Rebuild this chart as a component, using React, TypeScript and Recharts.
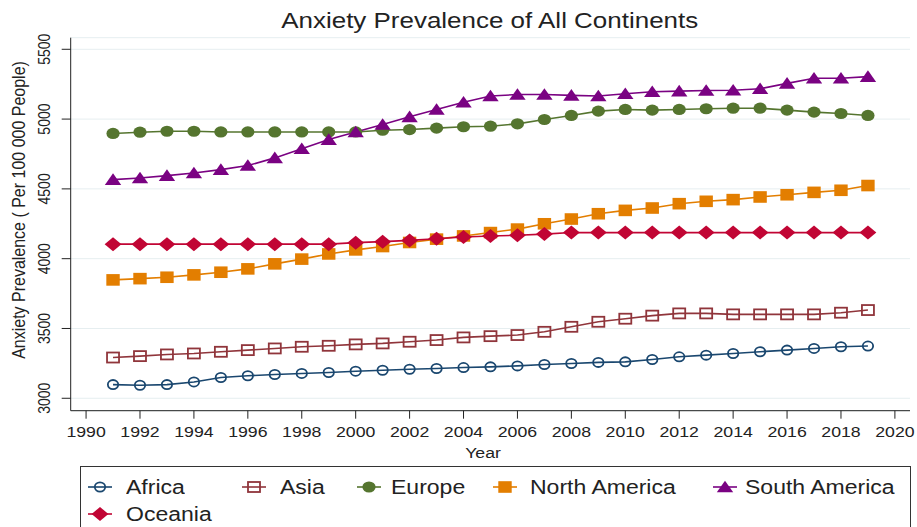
import {
  CartesianGrid,
  Line,
  LineChart,
  XAxis,
  YAxis,
} from "recharts";

const years = [
  1991, 1992, 1993, 1994, 1995, 1996, 1997, 1998, 1999, 2000, 2001, 2002, 2003,
  2004, 2005, 2006, 2007, 2008, 2009, 2010, 2011, 2012, 2013, 2014, 2015, 2016,
  2017, 2018, 2019,
];

const africa = [
  3098, 3093, 3098, 3117, 3149, 3161, 3170, 3178, 3185, 3194, 3201, 3208, 3213,
  3220, 3225, 3232, 3242, 3249, 3257, 3261, 3278, 3297, 3309, 3321, 3333, 3345,
  3357, 3369, 3374,
];
const asia = [
  3292, 3302, 3314, 3321, 3333, 3345, 3357, 3369, 3376, 3386, 3393, 3405, 3417,
  3436, 3445, 3453, 3476, 3512, 3548, 3570, 3592, 3608, 3608, 3601, 3601, 3601,
  3601, 3613, 3632,
];
const europe = [
  4897, 4906, 4913, 4913, 4908, 4908, 4908, 4908, 4908, 4908, 4920, 4925, 4935,
  4945, 4949, 4966, 4997, 5026, 5057, 5069, 5064, 5069, 5074, 5078, 5078, 5064,
  5050, 5040, 5026,
];
const northAmerica = [
  3848, 3857, 3867, 3884, 3903, 3927, 3963, 3997, 4034, 4063, 4087, 4116, 4140,
  4163, 4187, 4212, 4250, 4284, 4322, 4346, 4363, 4394, 4411, 4423, 4442, 4458,
  4475, 4490, 4524,
];
const southAmerica = [
  4566, 4578, 4595, 4614, 4638, 4667, 4722, 4787, 4853, 4908, 4961, 5016, 5069,
  5121, 5165, 5176, 5176, 5170, 5165, 5182, 5196, 5200, 5205, 5207, 5217, 5256,
  5292, 5292, 5304,
];
const oceania = [
  4104, 4104, 4104, 4104, 4104, 4104, 4104, 4104, 4104, 4115, 4122, 4131, 4143,
  4155, 4162, 4168, 4176, 4187, 4187, 4187, 4187, 4187, 4187, 4187, 4187, 4187,
  4187, 4187, 4187,
];

const xTicks = [
  1990, 1992, 1994, 1996, 1998, 2000, 2002, 2004, 2006, 2008, 2010, 2012, 2014,
  2016, 2018, 2020,
];
const yTicks = [3000, 3500, 4000, 4500, 5000, 5500];

type Shape = "hollowCircle" | "hollowSquare" | "circle" | "square" | "triangle" | "diamond";

const series: { name: string; values: number[]; color: string; shape: Shape }[] = [
  { name: "Africa", values: africa, color: "#1a476f", shape: "hollowCircle" },
  { name: "Asia", values: asia, color: "#90353b", shape: "hollowSquare" },
  { name: "Europe", values: europe, color: "#55752f", shape: "circle" },
  { name: "North America", values: northAmerica, color: "#e37e00", shape: "square" },
  { name: "South America", values: southAmerica, color: "#7a0282", shape: "triangle" },
  { name: "Oceania", values: oceania, color: "#c10534", shape: "diamond" },
];

const data = years.map((year, i) => {
  const row: Record<string, number> = { year };
  series.forEach((s) => (row[s.name] = s.values[i]));
  return row;
});

const FONT = "'Liberation Sans', Arial, Helvetica, sans-serif";
const SX = 1.18; // the reference is stretched sideways

function Marker({ shape, color, cx, cy }: { shape: Shape; color: string; cx: number; cy: number }) {
  switch (shape) {
    case "hollowCircle":
      return <ellipse cx={cx} cy={cy} rx={5.2} ry={4.6} fill="none" stroke={color} strokeWidth={1.8} />;
    case "hollowSquare":
      return <rect x={cx - 6} y={cy - 5} width={12} height={10} fill="none" stroke={color} strokeWidth={1.8} />;
    case "circle":
      return <ellipse cx={cx} cy={cy} rx={6.6} ry={5.6} fill={color} />;
    case "square":
      return <rect x={cx - 6.7} y={cy - 5.8} width={13.4} height={11.6} fill={color} />;
    case "triangle":
      return (
        <polygon
          points={`${cx - 8.2},${cy + 5.3} ${cx + 8.2},${cy + 5.3} ${cx},${cy - 6.3}`}
          fill={color}
        />
      );
    default:
      return (
        <polygon
          points={`${cx},${cy - 7} ${cx + 8.4},${cy} ${cx},${cy + 7} ${cx - 8.4},${cy}`}
          fill={color}
        />
      );
  }
}

function XTick(props: any) {
  const { x, y, payload } = props;
  return (
    <text
      transform={`translate(${x},${y + 16.5}) scale(${SX},1)`}
      textAnchor="middle"
      fontFamily={FONT}
      fontSize={15}
      fill="#222"
    >
      {payload.value}
    </text>
  );
}

function YTick(props: any) {
  const { y, payload } = props;
  return (
    <text
      transform={`translate(49.5,${y}) scale(${SX},1) rotate(-90)`}
      textAnchor="middle"
      fontFamily={FONT}
      fontSize={14}
      fill="#222"
    >
      {payload.value}
    </text>
  );
}

const legendPos = [
  { mx: 100, tx: 126, cy: 487 },
  { mx: 254, tx: 280, cy: 487 },
  { mx: 369, tx: 391, cy: 487 },
  { mx: 505, tx: 530, cy: 487 },
  { mx: 725, tx: 745, cy: 487 },
  { mx: 100, tx: 126, cy: 514 },
];

export default function App() {
  return (
    <div style={{ position: "absolute", left: 0, top: 0, width: 917, height: 527, background: "#fff", overflow: "hidden" }}>
      <div
        style={{
          position: "absolute",
          left: 0,
          width: 980,
          top: 8,
          textAlign: "center",
          fontFamily: FONT,
          fontSize: 22,
          lineHeight: "26px",
          color: "#222",
        }}
      >
        <span style={{ display: "inline-block", transform: `scaleX(${SX})` }}>
          Anxiety Prevalence of All Continents
        </span>
      </div>

      <LineChart
        width={917}
        height={527}
        data={data}
        margin={{ top: 37.7, right: 7, bottom: 76.3, left: 10.7 }}
      >
        <CartesianGrid horizontal vertical={false} stroke="#e6eef0" />
        <XAxis
          dataKey="year"
          type="number"
          domain={[1989.43, 2020.56]}
          allowDataOverflow
          ticks={xTicks}
          height={40}
          tickSize={8}
          stroke="#222"
          tick={<XTick />}
          label={{
            content: () => (
              <text
                transform={`translate(483,458) scale(${SX},1)`}
                textAnchor="middle"
                fontFamily={FONT}
                fontSize={15}
                fill="#222"
              >
                Year
              </text>
            ),
          }}
        />
        <YAxis
          type="number"
          domain={[2911, 5583]}
          allowDataOverflow
          ticks={yTicks}
          width={60}
          tickSize={9}
          stroke="#222"
          tick={<YTick />}
          label={{
            content: () => (
              <text
                transform={`translate(25,210) scale(${SX},1) rotate(-90)`}
                textAnchor="middle"
                fontFamily={FONT}
                fontSize={16}
                fill="#222"
              >
                Anxiety Prevalence ( Per 100 000 People)
              </text>
            ),
          }}
        />
        {series.map((s) => (
          <Line
            key={s.name}
            dataKey={s.name}
            type="linear"
            stroke={s.color}
            strokeWidth={1.6}
            isAnimationActive={false}
            activeDot={false}
            dot={(p: any) => (
              <g key={`${s.name}-${p.index}`}>
                <Marker shape={s.shape} color={s.color} cx={p.cx} cy={p.cy} />
              </g>
            )}
          />
        ))}
      </LineChart>

      <div
        style={{
          position: "absolute",
          left: 80,
          top: 466,
          width: 831,
          height: 80,
          border: "1px solid #333",
          boxSizing: "border-box",
        }}
      />
      {series.map((s, i) => {
        const pos = legendPos[i];
        return (
          <div key={s.name}>
            <svg
              style={{ position: "absolute", left: pos.mx - 14, top: pos.cy - 10 }}
              width={28}
              height={20}
            >
              <line x1={2} y1={10} x2={26} y2={10} stroke={s.color} strokeWidth={1.6} />
              <Marker shape={s.shape} color={s.color} cx={14} cy={10} />
            </svg>
            <span
              style={{
                position: "absolute",
                left: pos.tx,
                top: pos.cy - 12,
                lineHeight: "24px",
                fontFamily: FONT,
                fontSize: 19.5,
                color: "#222",
                whiteSpace: "nowrap",
                transform: `scaleX(${SX})`,
                transformOrigin: "left center",
              }}
            >
              {s.name}
            </span>
          </div>
        );
      })}
    </div>
  );
}
